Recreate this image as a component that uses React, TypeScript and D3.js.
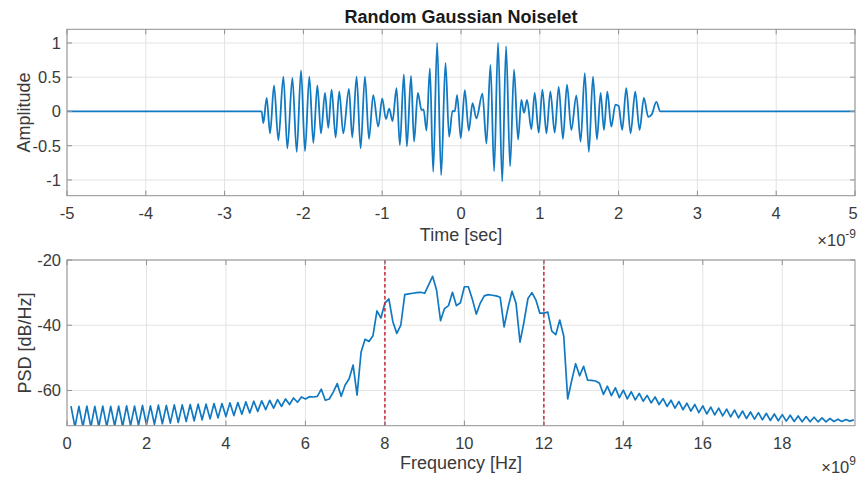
import React from 'react';
import * as d3 from 'd3';

// Noiselet waveform: local extrema of the time signal (time in ns, amplitude)
const TIME_NS = [
  -5, -2.53, -2.508, -2.466, -2.423, -2.373, -2.318, -2.254, -2.204, -2.14, -2.085,
  -2.03, -1.98, -1.925, -1.874, -1.823, -1.777, -1.726, -1.684, -1.642, -1.591,
  -1.545, -1.494, -1.422, -1.38, -1.325, -1.274, -1.219, -1.168, -1.114, -1.05,
  -1.0, -0.953, -0.911, -0.869, -0.818, -0.776, -0.725, -0.687, -0.634, -0.596,
  -0.548, -0.5, -0.475, -0.438, -0.395, -0.353, -0.303, -0.252, -0.197, -0.151,
  -0.108, -0.079, -0.049, -0.003, 0.048, 0.099, 0.146, 0.196, 0.272, 0.323,
  0.374, 0.42, 0.47, 0.523, 0.572, 0.623, 0.673, 0.724, 0.766, 0.8,
  0.838, 0.893, 0.935, 0.986, 1.033, 1.084, 1.134, 1.189, 1.24, 1.294,
  1.345, 1.4, 1.464, 1.518, 1.571, 1.622, 1.675, 1.725, 1.772, 1.814,
  1.857, 1.907, 1.96, 2.0, 2.046, 2.097, 2.152, 2.211, 2.266, 2.321,
  2.376, 2.422, 2.478, 2.53, 5,
];
const AMPLITUDE = [
  0, 0, -0.17, 0.2, -0.32, 0.38, -0.42, 0.51, -0.54, 0.49, -0.59,
  0.6, -0.58, 0.51, -0.46, 0.38, -0.32, 0.27, -0.24, 0.32, -0.38,
  0.29, -0.32, 0.33, -0.38, 0.51, -0.54, 0.51, -0.4, 0.24, -0.22,
  0.19, -0.11, 0.04, -0.14, 0.34, -0.49, 0.54, -0.51, 0.52, -0.44,
  0.27, 0.02, 0.03, -0.28, 0.63, -0.88, 1.0, -0.93, 0.71, -0.37,
  0.01, 0.0, 0.24, -0.39, 0.31, -0.28, 0.12, -0.1, 0.26, -0.47,
  0.68, -0.87, 1.0, -1.02, 0.95, -0.8, 0.61, -0.41, 0.17, -0.02,
  0.17, -0.26, 0.27, -0.31, 0.32, -0.32, 0.29, -0.31, 0.36, -0.4,
  0.39, -0.27, 0.23, -0.44, 0.56, -0.59, 0.51, -0.41, 0.27, -0.27,
  0.29, -0.22, 0.1, 0.08, -0.27, 0.34, -0.32, 0.29, -0.27, 0.2,
  -0.08, -0.04, 0.14, 0, 0,
];

// Power spectral density, one value per 0.1 GHz bin starting at 0.1 GHz
const FREQ_START_GHZ = 0.1;
const FREQ_STEP_GHZ = 0.1;
const PSD_DB = [
  -64.8, -71.2, -64.9, -71.1, -64.8, -71.2, -64.9, -71.0, -64.8,
  -71.1, -64.9, -70.9, -64.8, -71.0, -64.7, -70.8, -64.8, -70.7, -64.6,
  -70.5, -64.7, -70.4, -64.5, -70.2, -64.6, -70.0, -64.4, -69.8, -64.4,
  -69.5, -64.3, -69.3, -64.2, -69.0, -64.2, -68.7, -64.0, -68.4, -64.0,
  -68.0, -63.8, -67.7, -63.7, -67.3, -63.5, -66.9, -63.3, -66.4, -63.2,
  -65.9, -63.0, -65.4, -62.8, -64.9, -62.6, -64.3, -62.3, -63.6, -62.0,
  -62.6, -61.9, -62.0, -61.8, -59.6, -63.0, -62.6, -60.5, -57.9, -61.8,
  -58.3, -56.4, -52.2, -61.4, -48.3, -44.3, -45.0, -43.2, -35.6, -37.8,
  -33.2, -31.9, -38.9, -42.5, -40.0, -30.6, -30.4, -30.2, -30.0, -29.9,
  -30.2, -27.6, -25.0, -29.2, -38.6, -34.9, -34.0, -29.9, -34.0, -33.1,
  -28.2, -28.2, -32.0, -36.6, -33.2, -31.0, -30.6, -30.8, -31.0, -31.4,
  -40.5, -34.5, -29.6, -33.3, -45.2, -39.0, -31.8, -30.0, -32.3, -36.3,
  -36.3, -36.0, -41.8, -42.9, -38.4, -43.3, -62.6, -57.0, -51.8, -55.5,
  -52.6, -56.8, -56.9, -57.1, -57.8, -61.2, -58.7, -61.6, -59.2, -62.2,
  -59.9, -62.6, -60.4, -62.9, -60.9, -63.3, -61.5, -63.8, -62.0, -64.3,
  -62.5, -64.9, -63.0, -65.4, -63.4, -65.9, -63.9, -66.3, -64.3, -66.8,
  -64.7, -67.2, -65.1, -67.5, -65.4, -67.8, -65.7, -68.1, -66.0, -68.4,
  -66.3, -68.6, -66.6, -68.8, -66.8, -69.0, -67.0, -69.2, -67.2, -69.3,
  -67.4, -69.4, -67.6, -69.5, -67.8, -69.6, -68.0, -69.6, -68.2, -69.6,
  -68.4, -69.6, -68.6, -69.5, -68.8, -69.5, -68.9, -69.4, -69.0,
];

// Passband edges marked on the spectrum (GHz)
const BAND_EDGES_GHZ = [8, 12];

const TIME_TICKS = [-5, -4, -3, -2, -1, 0, 1, 2, 3, 4, 5];
const AMP_TICKS = [-1, -0.5, 0, 0.5, 1];
const FREQ_TICKS = [0, 2, 4, 6, 8, 10, 12, 14, 16, 18];
const PSD_TICKS = [-60, -40, -20];

const FONT = "'Liberation Sans', Arial, Helvetica, sans-serif";
const LINE = '#1079c2';
const GRID = '#e3e3e3';
const BOX = '#8f8f8f';
const TEXT = '#3a3a3a';
const TICK_FS = 16.5;
const LABEL_FS = 18;

const W = 858;
const H = 483;

type Panel = {
  x: d3.ScaleLinear<number, number>;
  y: d3.ScaleLinear<number, number>;
  xTicks: number[];
  yTicks: number[];
};

function Frame({ x, y, xTicks, yTicks }: Panel) {
  const [x0, x1] = x.range();
  const [y0, y1] = y.range(); // y0 bottom, y1 top
  const tl = 5;
  return (
    <g>
      <rect x={x0} y={y1} width={x1 - x0} height={y0 - y1} fill="none" stroke={BOX} strokeWidth={1} />
      {xTicks.map((t) => (
        <g key={'xt' + t}>
          <line x1={x(t)} x2={x(t)} y1={y0} y2={y0 - tl} stroke={BOX} />
          <line x1={x(t)} x2={x(t)} y1={y1} y2={y1 + tl} stroke={BOX} />
        </g>
      ))}
      {yTicks.map((t) => (
        <g key={'yt' + t}>
          <line x1={x0} x2={x0 + tl} y1={y(t)} y2={y(t)} stroke={BOX} />
          <line x1={x1} x2={x1 - tl} y1={y(t)} y2={y(t)} stroke={BOX} />
        </g>
      ))}
    </g>
  );
}

function Grid({ x, y, xTicks, yTicks }: Panel) {
  const [x0, x1] = x.range();
  const [y0, y1] = y.range();
  return (
    <g>
      {xTicks.map((t) => (
        <line key={'gx' + t} x1={x(t)} x2={x(t)} y1={y0} y2={y1} stroke={GRID} strokeWidth={1} />
      ))}
      {yTicks.map((t) => (
        <line key={'gy' + t} x1={x0} x2={x1} y1={y(t)} y2={y(t)} stroke={GRID} strokeWidth={1} />
      ))}
    </g>
  );
}

function TickLabels({ x, y, xTicks, yTicks, xBase }: Panel & { xBase: number }) {
  const [x0] = x.range();
  return (
    <g fontFamily={FONT} fontSize={TICK_FS} fill={TEXT}>
      {xTicks.map((t) => (
        // keep the last label inside the page edge
        <text key={'xl' + t} x={Math.min(x(t), W - 5)} y={xBase} textAnchor="middle">
          {String(t)}
        </text>
      ))}
      {yTicks.map((t) => (
        <text key={'yl' + t} x={x0 - 6} y={y(t)} dy="0.36em" textAnchor="end">
          {String(t)}
        </text>
      ))}
    </g>
  );
}

export default function App() {
  // Time-domain panel
  const xT = d3.scaleLinear().domain([-5, 5]).range([67, 855]);
  const yT = d3.scaleLinear().domain([-1.23, 1.2]).range([195.7, 29.3]);
  const top: Panel = { x: xT, y: yT, xTicks: TIME_TICKS, yTicks: AMP_TICKS };

  // Spectrum panel
  const xF = d3.scaleLinear().domain([0, 19.83]).range([67, 855]);
  const yF = d3.scaleLinear().domain([-70.8, -20]).range([425.7, 260]);
  const bot: Panel = { x: xF, y: yF, xTicks: FREQ_TICKS, yTicks: PSD_TICKS };

  const wave = TIME_NS.map((t, i) => [t, AMPLITUDE[i]] as [number, number]);
  const waveLine = d3
    .line<[number, number]>()
    .x((d) => xT(d[0]))
    .y((d) => yT(d[1]))
    .curve(d3.curveMonotoneX);

  const psd = PSD_DB.map((v, i) => [FREQ_START_GHZ + i * FREQ_STEP_GHZ, v] as [number, number]);
  const psdLine = d3
    .line<[number, number]>()
    .x((d) => xF(d[0]))
    .y((d) => yF(d[1]));

  return (
    <svg
      width={W}
      height={H}
      viewBox={`0 0 ${W} ${H}`}
      style={{ position: 'absolute', left: 0, top: 0, background: '#fff' }}
    >
      <defs>
        <clipPath id="clip-top">
          <rect x={67} y={29.3} width={788} height={166.4} />
        </clipPath>
        <clipPath id="clip-bot">
          <rect x={67} y={260} width={788} height={165.7} />
        </clipPath>
      </defs>
      <rect x={0} y={0} width={W} height={H} fill="#fff" />

      {/* Top: waveform */}
      <Grid {...top} />
      <path
        d={waveLine(wave) || ''}
        fill="none"
        stroke={LINE}
        strokeWidth={1.8}
        strokeLinejoin="round"
        clipPath="url(#clip-top)"
      />
      <Frame {...top} />
      <TickLabels {...top} xBase={218.5} />
      <text x={461} y={22.5} textAnchor="middle" fontFamily={FONT} fontWeight="bold" fontSize={LABEL_FS} fill="#1a1a1a">
        Random Gaussian Noiselet
      </text>
      <text x={461} y={240.5} textAnchor="middle" fontFamily={FONT} fontSize={LABEL_FS} fill={TEXT}>
        Time [sec]
      </text>
      <text
        transform="translate(30,112.5) rotate(-90)"
        textAnchor="middle"
        fontFamily={FONT}
        fontSize={LABEL_FS}
        fill={TEXT}
      >
        Amplitude
      </text>
      <text x={856} y={246} textAnchor="end" fontFamily={FONT} fontSize={TICK_FS} fill={TEXT}>
        ×10
        <tspan dy={-8} fontSize={12}>
          -9
        </tspan>
      </text>

      {/* Bottom: power spectral density */}
      <Grid {...bot} />
      <path
        d={psdLine(psd) || ''}
        fill="none"
        stroke={LINE}
        strokeWidth={1.7}
        strokeLinejoin="round"
        clipPath="url(#clip-bot)"
      />
      {BAND_EDGES_GHZ.map((f) => (
        <line
          key={'edge' + f}
          x1={xF(f)}
          x2={xF(f)}
          y1={260}
          y2={425.7}
          stroke="#c8283a"
          strokeWidth={1.5}
          strokeDasharray="3.5,2.5"
        />
      ))}
      <Frame {...bot} />
      <TickLabels {...bot} xBase={448.5} />
      <text x={461} y={469} textAnchor="middle" fontFamily={FONT} fontSize={LABEL_FS} fill={TEXT}>
        Frequency [Hz]
      </text>
      <text
        transform="translate(31,343) rotate(-90)"
        textAnchor="middle"
        fontFamily={FONT}
        fontSize={LABEL_FS}
        fill={TEXT}
      >
        PSD [dB/Hz]
      </text>
      <text x={856} y={473} textAnchor="end" fontFamily={FONT} fontSize={TICK_FS} fill={TEXT}>
        ×10
        <tspan dy={-8} fontSize={12}>
          9
        </tspan>
      </text>
    </svg>
  );
}
